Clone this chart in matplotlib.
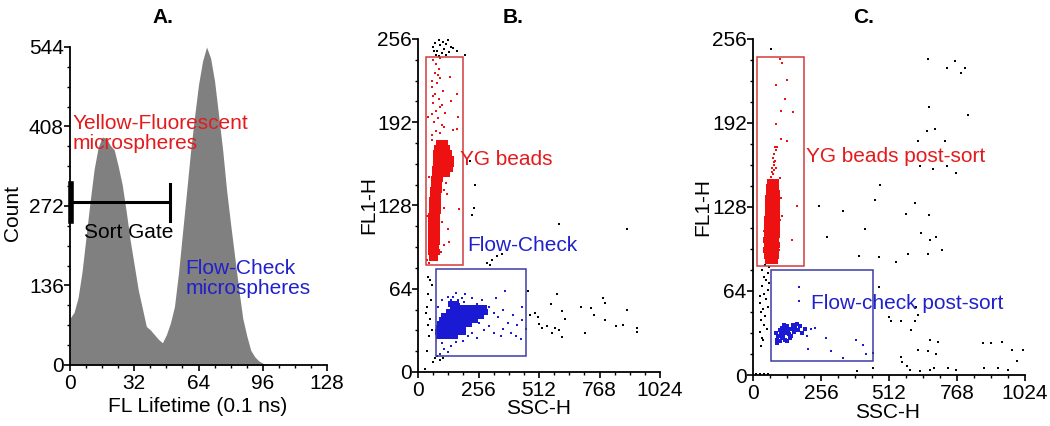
import matplotlib
matplotlib.use("Agg")
import matplotlib.pyplot as plt
from matplotlib.patches import Rectangle
from matplotlib.ticker import MultipleLocator

plt.rcParams['font.family'] = ['Liberation Sans', 'DejaVu Sans']

RED = '#ee1111'
BLUE = '#1a1ad4'
RED_TXT = '#e41a1c'
BLUE_TXT = '#2020cc'

# ---- panel A: lifetime histogram ----
lifetime = [0, 2, 4, 6, 8, 10, 12, 14, 16, 18, 20, 22, 24, 26, 28, 30, 32, 34, 36, 38,
            40, 42, 44, 46, 48, 50, 52, 54, 56, 58, 60, 62, 64, 66, 68, 70, 72, 74, 76, 78,
            80, 82, 84, 86, 88, 90, 92, 94, 96, 98, 100]
counts = [80, 90, 115, 160, 220, 280, 335, 372, 390, 388, 376, 368, 340, 308, 262, 212, 170, 128, 97, 66,
          60, 52, 44, 38, 52, 72, 100, 157, 226, 295, 365, 425, 480, 520, 544, 525, 485, 427, 368, 298,
          240, 185, 130, 80, 50, 25, 14, 7, 3, 1, 0]
sort_gate = (0, 50, 278)  # start, end, height

# ---- panel B: pre-sort (SSC-H, FL1-H) ----
b_yg_gate = (32, 82, 192, 242)
b_fc_gate = (75, 12, 457, 79)

b_red_core = [(58, 88), (70, 88),
              (55, 92), (67, 92), (80, 92), (54, 96), (66, 96), (78, 96),
              (55, 100), (67, 100), (80, 100), (54, 104), (66, 104), (79, 104),
              (56, 108), (68, 108), (80, 108), (55, 112), (67, 112), (81, 112),
              (57, 116), (69, 116), (82, 116), (56, 120), (68, 120), (81, 120),
              (58, 124), (70, 124), (83, 124), (58, 128), (71, 128), (84, 128),
              (60, 132), (72, 132), (85, 132), (62, 136), (74, 136), (86, 136),
              (64, 140), (76, 140), (88, 140), (66, 144), (78, 144), (90, 144),
              (68, 148), (80, 148), (93, 148),
              (72, 152), (85, 152), (98, 152), (110, 152), (122, 152),
              (74, 156), (87, 156), (100, 156), (112, 156), (125, 156), (136, 156),
              (75, 160), (88, 160), (101, 160), (114, 160), (127, 160), (138, 160),
              (76, 164), (89, 164), (102, 164), (115, 164), (128, 164), (138, 164),
              (78, 168), (91, 168), (104, 168), (117, 168), (130, 168),
              (82, 172), (95, 172), (108, 172), (121, 172),
              (88, 176), (100, 176), (113, 176)]
b_red_sparse = [(60, 182), (75, 185), (95, 184), (110, 188), (68, 192), (85, 195), (100, 190),
                (58, 198), (78, 201), (92, 204), (115, 199), (65, 207), (88, 210), (72, 214),
                (105, 216), (60, 219), (82, 222), (95, 226), (70, 230), (88, 233), (78, 237),
                (65, 240), (92, 241), (85, 228), (62, 212), (100, 205), (135, 227), (164, 214),
                (140, 208), (171, 196), (150, 186), (164, 187), (58, 224), (44, 196), (58, 178),
                (124, 137), (128, 110), (173, 125), (110, 98), (98, 92), (108, 140), (120, 145),
                (45, 150), (40, 120), (100, 115), (95, 128), (38, 86), (46, 84), (110, 126),
                (130, 100)]
b_blue_core = [(88, 28), (105, 28), (122, 28), (140, 28), (158, 28),
               (86, 31), (103, 31), (120, 31), (137, 31), (155, 31), (172, 31), (190, 31),
               (88, 34), (105, 34), (122, 34), (140, 34), (157, 34), (175, 34), (192, 34),
               (92, 37), (110, 37), (127, 37), (145, 37), (162, 37), (180, 37), (198, 37), (215, 37),
               (100, 40), (118, 40), (135, 40), (152, 40), (170, 40), (188, 40), (205, 40),
               (222, 40), (240, 40),
               (108, 43), (125, 43), (142, 43), (160, 43), (178, 43), (195, 43), (212, 43), (230, 43),
               (248, 43), (265, 43),
               (130, 46), (148, 46), (165, 46), (182, 46), (200, 46), (218, 46), (235, 46), (252, 46),
               (270, 46), (285, 46),
               (150, 49), (172, 49), (195, 49), (215, 49), (240, 49), (262, 49), (280, 49),
               (140, 52), (160, 52)]
b_blue_sparse = [(150, 58), (160, 61), (170, 55), (185, 57), (200, 60), (140, 55), (175, 52),
                 (195, 54), (230, 57), (250, 52), (270, 55), (300, 50), (320, 45), (340, 42),
                 (360, 48), (380, 38), (400, 44), (420, 36), (440, 40), (300, 35), (320, 30),
                 (350, 28), (280, 32), (260, 38), (230, 30), (250, 26), (210, 28), (395, 30),
                 (415, 28), (435, 25), (455, 33), (100, 22), (110, 18), (125, 15), (95, 14),
                 (140, 20), (85, 50), (100, 55), (125, 58), (330, 57), (370, 62), (160, 23),
                 (190, 24), (360, 33), (440, 50)]
b_other = [(63, 250), (72, 253), (80, 247), (88, 255), (95, 251), (105, 254), (112, 248),
           (120, 252), (130, 246), (138, 250), (75, 244), (100, 245), (125, 255), (150, 249),
           (165, 247), (68, 247), (90, 243), (118, 244), (199, 244),
           (220, 162), (241, 144), (238, 126), (227, 121), (291, 84), (312, 86), (333, 89),
           (354, 91), (305, 82), (597, 114), (886, 110),
           (44, 73), (51, 71), (58, 67), (44, 60), (51, 41), (44, 36), (58, 32), (37, 16),
           (72, 11), (93, 9), (107, 11), (30, 2), (40, 50), (48, 28), (35, 45), (55, 55),
           (62, 8), (80, 12),
           (464, 62), (587, 60), (474, 44), (495, 45), (509, 42), (513, 37), (523, 34),
           (545, 35), (566, 30), (580, 34), (598, 32), (608, 27), (608, 47), (622, 41),
           (689, 50), (731, 49), (745, 44), (781, 57), (791, 53), (791, 40), (838, 35),
           (866, 36), (886, 48), (925, 34), (925, 31), (707, 30), (561, 52)]

# ---- panel C: post-sort ----
c_yg_gate = (14, 83, 193, 242)
c_fc_gate = (68, 11, 451, 80)

c_red_core = [(55, 87), (70, 87), (82, 87),
              (52, 91), (65, 91), (78, 91), (88, 91), (50, 95), (63, 95), (76, 95), (88, 95),
              (52, 99), (64, 99), (77, 99), (89, 99), (51, 103), (64, 103), (76, 103), (88, 103),
              (53, 107), (65, 107), (78, 107), (90, 107), (52, 111), (64, 111), (77, 111), (89, 111),
              (54, 115), (66, 115), (79, 115), (90, 115), (53, 119), (66, 119), (78, 119), (90, 119),
              (55, 123), (67, 123), (80, 123), (91, 123), (56, 127), (68, 127), (80, 127), (90, 127),
              (56, 131), (68, 131), (81, 131), (91, 131), (57, 135), (70, 135), (82, 135), (92, 135),
              (60, 139), (72, 139), (84, 139), (92, 139), (62, 143), (74, 143), (86, 143),
              (65, 147), (77, 147), (88, 147)]
c_red_sparse = [(68, 151), (75, 153), (80, 156), (72, 158), (78, 160), (82, 163), (75, 165),
                (80, 168), (85, 171), (83, 174), (78, 162), (70, 155), (88, 158),
                (100, 241), (111, 238), (129, 225), (88, 221), (119, 210), (151, 200), (104, 201),
                (85, 191), (107, 180), (129, 178), (90, 174), (167, 129), (147, 103), (111, 121),
                (100, 150), (105, 135), (98, 95), (40, 110), (102, 118)]
c_blue_core = [(90, 27), (100, 26), (110, 28), (120, 27), (130, 26), (140, 28), (95, 30),
               (105, 31), (115, 30), (125, 32), (135, 31), (145, 30), (100, 34), (112, 33),
               (122, 35), (132, 34), (145, 35), (155, 33), (160, 36), (170, 34), (150, 38),
               (165, 39), (178, 37), (185, 32), (195, 35), (88, 32), (118, 38), (130, 37),
               (108, 36), (92, 24)]
c_blue_sparse = [(172, 67), (172, 56), (232, 36), (274, 28), (207, 20), (293, 18), (339, 13),
                 (389, 27), (415, 23), (427, 16), (205, 30), (220, 35)]
c_other = [(30, 22), (35, 28), (25, 33), (40, 38), (32, 42), (45, 45), (38, 50), (28, 55),
           (48, 58), (40, 62), (55, 65), (35, 68), (50, 72), (42, 75), (58, 78), (60, 82),
           (45, 84), (30, 48), (52, 35), (25, 60), (38, 27), (55, 52), (62, 70), (33, 80),
           (67, 248), (660, 241), (729, 234), (760, 239), (798, 234), (785, 230), (663, 204),
           (808, 198), (657, 186), (685, 187), (622, 178), (722, 178), (628, 159), (678, 157),
           (729, 159), (764, 154), (477, 145), (461, 133), (609, 131), (248, 129), (339, 125),
           (575, 123), (663, 122), (423, 111), (634, 108), (666, 103), (689, 105), (712, 95),
           (280, 105), (400, 91), (475, 90), (537, 86), (584, 92), (660, 92), (475, 67),
           (513, 44), (518, 41), (557, 41), (594, 34), (609, 41), (622, 46), (613, 52),
           (666, 27), (697, 25), (622, 19), (660, 18), (691, 16), (559, 14), (563, 10),
           (580, 7), (590, 4), (628, 3), (666, 4), (682, 5), (735, 5), (764, 4), (867, 24),
           (898, 24), (936, 25), (977, 19), (993, 11), (1015, 19), (871, 5), (923, 5),
           (961, 4), (392, 3), (452, 5), (452, 17), (10, 1), (25, 1), (40, 1), (55, 1)]


def style_axes(ax, xmax, ymax, xstep, ystep):
    ax.set_xlim(0, xmax)
    ax.set_ylim(0, ymax)
    ax.set_xticks([xstep * i for i in range(5)])
    ax.set_yticks([ystep * i for i in range(5)])
    ax.xaxis.set_minor_locator(MultipleLocator(xstep / 4))
    ax.yaxis.set_minor_locator(MultipleLocator(ystep / 4))
    for s in ['top', 'right']:
        ax.spines[s].set_visible(False)
    for s in ['left', 'bottom']:
        ax.spines[s].set_linewidth(1.3)
    ax.tick_params(which='major', direction='out', length=4, width=1.2, labelsize=15)
    ax.tick_params(which='minor', direction='out', length=2.5, width=1)
    ax.tick_params(axis='y', which='both', pad=0.5)
    ax.tick_params(axis='x', which='both', pad=2.5)


def scatter(ax, pts, color, s):
    ax.scatter([p[0] for p in pts], [p[1] for p in pts], s=s, c=color, marker='s',
               linewidths=0, clip_on=False)


def gate(ax, box, color):
    x0, y0, x1, y1 = box
    ax.add_patch(Rectangle((x0, y0), x1 - x0, y1 - y0, fill=False, edgecolor=color, lw=1.1))


fig = plt.figure(figsize=(10.5, 4.26), dpi=100)

# A
axA = fig.add_axes([0.0667, 0.1432, 0.2448, 0.7465])
axA.fill_between(lifetime, counts, color='#808080', lw=0)
style_axes(axA, 128, 544, 32, 136)
g0, g1, gy = sort_gate
axA.plot([g0, g1], [gy, gy], color='black', lw=2.2)
axA.plot([g0 + 0.4, g0 + 0.4], [gy - 32, gy + 32], color='black', lw=4, clip_on=False)
axA.plot([g1, g1], [gy - 32, gy + 32], color='black', lw=2.2)
axA.text(1.3, 430, 'Yellow-Fluorescent\nmicrospheres', color=RED_TXT, fontsize=15,
         va='top', ha='left', linespacing=1.1)
axA.text(7, 217, 'Sort Gate', color='black', fontsize=15, va='baseline')
axA.text(57.3, 182, 'Flow-Check\nmicrospheres', color=BLUE_TXT, fontsize=15,
         va='top', ha='left', linespacing=1.1)
axA.set_xlabel('FL Lifetime (0.1 ns)', fontsize=15)
axA.set_ylabel('Count', fontsize=15, va='center')
axA.xaxis.set_label_coords(0.498, -0.10)
axA.yaxis.set_label_coords(-0.222, 0.478)
fig.text(0.155, 0.958, 'A.', fontsize=15, fontweight='bold', ha='center', va='center')

# B
axB = fig.add_axes([0.3981, 0.1268, 0.2305, 0.7817])
style_axes(axB, 1024, 256, 256, 64)
scatter(axB, b_other, 'black', 3)
scatter(axB, b_red_sparse, RED, 4)
scatter(axB, b_red_core, RED, 14)
scatter(axB, b_blue_sparse, BLUE, 4)
scatter(axB, b_blue_core, BLUE, 14)
gate(axB, b_yg_gate, '#d23c3c')
gate(axB, b_fc_gate, '#3c3ca6')
axB.text(178, 159, 'YG beads', color=RED_TXT, fontsize=15, va='baseline')
axB.text(209, 93, 'Flow-Check', color=BLUE_TXT, fontsize=15, va='baseline')
axB.set_xlabel('SSC-H', fontsize=15)
axB.set_ylabel('FL1-H', fontsize=15, va='center')
axB.xaxis.set_label_coords(0.496, -0.082)
axB.yaxis.set_label_coords(-0.205, 0.5)
fig.text(0.489, 0.958, 'B.', fontsize=15, fontweight='bold', ha='center', va='center')

# C
axC = fig.add_axes([0.7171, 0.1197, 0.259, 0.789])
style_axes(axC, 1024, 256, 256, 64)
scatter(axC, c_other, 'black', 3)
scatter(axC, c_red_sparse, RED, 4)
scatter(axC, c_red_core, RED, 14)
scatter(axC, c_blue_sparse, BLUE, 4)
scatter(axC, c_blue_core, BLUE, 9)
gate(axC, c_yg_gate, '#d23c3c')
gate(axC, c_fc_gate, '#3c3ca6')
axC.text(200, 162, 'YG beads post-sort', color=RED_TXT, fontsize=15, va='baseline')
axC.text(220, 50, 'Flow-check post-sort', color=BLUE_TXT, fontsize=15, va='baseline')
axC.set_xlabel('SSC-H', fontsize=15)
axC.set_ylabel('FL1-H', fontsize=15, va='center')
axC.xaxis.set_label_coords(0.496, -0.083)
axC.yaxis.set_label_coords(-0.185, 0.5)
fig.text(0.822, 0.958, 'C.', fontsize=15, fontweight='bold', ha='center', va='center')

fig.savefig('out.png', dpi=100)
